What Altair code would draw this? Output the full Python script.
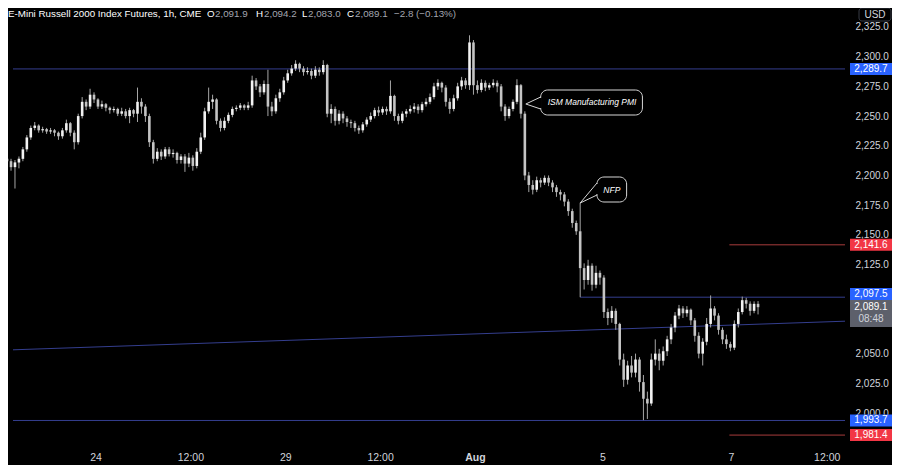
import altair as alt
import pandas as pd

# ---------------- data (1h candles) ----------------
opens = [
    2214, 2212, 2207, 2211, 2214, 2222, 2232, 2240, 2242, 2238,
    2239, 2237, 2238, 2236, 2233, 2238, 2244, 2236, 2228, 2250,
    2262, 2258, 2268, 2264, 2258, 2260, 2257, 2255, 2256, 2252,
    2254, 2250, 2255, 2252, 2262, 2258, 2250, 2228, 2214, 2220,
    2216, 2222, 2218, 2219, 2213, 2216, 2210, 2215, 2208, 2220,
    2232, 2254, 2262, 2264, 2246, 2240, 2246, 2251, 2256, 2257,
    2259, 2257, 2259, 2280, 2275, 2270, 2277, 2258, 2254, 2265,
    2270, 2280, 2286, 2290, 2294, 2290, 2287, 2288, 2284, 2289,
    2287, 2293, 2252, 2256, 2246, 2252, 2248, 2245, 2244, 2240,
    2238, 2243, 2247, 2250, 2255, 2253, 2256, 2254, 2267, 2250,
    2246, 2252, 2254, 2256, 2258, 2255, 2260, 2262, 2266, 2275,
    2278, 2274, 2262, 2256, 2265, 2275, 2280, 2276, 2312, 2276,
    2272, 2278, 2274, 2276, 2278, 2275, 2258, 2250, 2256, 2262,
    2276, 2252, 2200, 2192, 2188, 2196, 2194, 2198, 2194, 2190,
    2186, 2184, 2178, 2170, 2160, 2153, 2122, 2112, 2124, 2108,
    2118, 2114, 2085, 2080, 2086, 2075, 2045, 2028, 2040, 2034,
    2045, 2026, 2012, 2008, 2045, 2050, 2044, 2052, 2062, 2072,
    2082, 2088, 2084, 2087, 2078, 2065, 2050, 2060, 2075, 2088,
    2082, 2070, 2062, 2058, 2055, 2075, 2085, 2095, 2092, 2086,
    2091.9,
]
highs = [
    2217, 2214, 2213, 2216, 2224, 2234, 2242, 2245, 2243, 2241,
    2240, 2240, 2239, 2237, 2240, 2247, 2245, 2238, 2252, 2266,
    2264, 2273, 2270, 2265, 2263, 2261, 2258, 2258, 2257, 2257,
    2256, 2257, 2256, 2274, 2265, 2260, 2252, 2230, 2223, 2222,
    2224, 2224, 2222, 2220, 2218, 2218, 2219, 2217, 2223, 2236,
    2257, 2274, 2268, 2265, 2248, 2249, 2253, 2258, 2259, 2261,
    2260, 2262, 2284, 2282, 2277, 2280, 2289, 2262, 2268, 2273,
    2283, 2289, 2293, 2297, 2295, 2292, 2291, 2290, 2292, 2291,
    2297, 2294, 2260, 2258, 2255, 2254, 2250, 2247, 2246, 2242,
    2245, 2249, 2253, 2257, 2258, 2258, 2258, 2280, 2268, 2252,
    2254, 2256, 2259, 2261, 2260, 2262, 2265, 2269, 2278, 2281,
    2279, 2276, 2265, 2268, 2278, 2283, 2282, 2318, 2314, 2280,
    2281, 2280, 2278, 2281, 2280, 2277, 2260, 2258, 2264, 2281,
    2277, 2254, 2203, 2196, 2199, 2198, 2200, 2200, 2196, 2192,
    2188, 2186, 2180, 2172, 2162, 2177, 2126, 2129, 2126, 2124,
    2120, 2116, 2088, 2090, 2088, 2076, 2050, 2044, 2048, 2050,
    2047, 2032, 2018, 2050, 2062, 2054, 2056, 2065, 2075, 2085,
    2091, 2090, 2090, 2088, 2080, 2068, 2063, 2080, 2099, 2090,
    2084, 2072, 2066, 2060, 2078, 2088, 2098, 2097, 2094, 2094,
    2094.2,
]
lows = [
    2208, 2204, 2189, 2206, 2212, 2220, 2230, 2238, 2236, 2236,
    2235, 2235, 2233, 2230, 2231, 2236, 2233, 2222, 2226, 2248,
    2255, 2256, 2261, 2256, 2256, 2254, 2252, 2253, 2250, 2250,
    2248, 2244, 2249, 2245, 2252, 2245, 2224, 2210, 2212, 2213,
    2214, 2216, 2215, 2210, 2210, 2203, 2207, 2204, 2206, 2218,
    2230, 2252, 2256, 2243, 2237, 2238, 2244, 2249, 2254, 2255,
    2255, 2255, 2257, 2272, 2266, 2268, 2250, 2250, 2252, 2262,
    2268, 2278, 2284, 2288, 2287, 2284, 2285, 2281, 2282, 2284,
    2285, 2249, 2244, 2242, 2243, 2244, 2241, 2240, 2237, 2235,
    2236, 2241, 2245, 2248, 2250, 2251, 2251, 2252, 2246, 2243,
    2244, 2249, 2252, 2253, 2252, 2253, 2258, 2260, 2264, 2272,
    2270, 2258, 2252, 2254, 2263, 2272, 2273, 2272, 2268, 2269,
    2270, 2271, 2272, 2274, 2270, 2254, 2246, 2248, 2254, 2260,
    2248, 2196, 2186, 2184, 2186, 2190, 2192, 2191, 2186, 2182,
    2179, 2174, 2166, 2156, 2150, 2097.5, 2104, 2108, 2103, 2105,
    2108, 2080, 2074, 2076, 2070, 2040, 2022, 2024, 2030, 2030,
    2018, 1994, 1995, 2006, 2040, 2036, 2040, 2048, 2058, 2068,
    2079, 2080, 2081, 2074, 2060, 2046, 2040, 2057, 2072, 2078,
    2066, 2058, 2054, 2052, 2053, 2072, 2083, 2088, 2082, 2084,
    2083.0,
]
closes = [
    2212, 2207, 2211, 2214, 2222, 2232, 2240, 2242, 2238, 2239,
    2237, 2238, 2236, 2233, 2238, 2244, 2236, 2228, 2250, 2262,
    2258, 2268, 2264, 2258, 2260, 2257, 2255, 2256, 2252, 2254,
    2250, 2255, 2252, 2262, 2258, 2250, 2228, 2214, 2220, 2216,
    2222, 2218, 2219, 2213, 2216, 2210, 2215, 2208, 2220, 2232,
    2254, 2262, 2264, 2246, 2240, 2246, 2251, 2256, 2257, 2259,
    2257, 2259, 2280, 2275, 2270, 2277, 2258, 2254, 2265, 2270,
    2280, 2286, 2290, 2294, 2290, 2287, 2288, 2284, 2289, 2287,
    2293, 2252, 2256, 2246, 2252, 2248, 2245, 2244, 2240, 2238,
    2243, 2247, 2250, 2255, 2253, 2256, 2254, 2267, 2250, 2246,
    2252, 2254, 2256, 2258, 2255, 2260, 2262, 2266, 2275, 2278,
    2274, 2262, 2256, 2265, 2275, 2280, 2276, 2312, 2276, 2272,
    2278, 2274, 2276, 2278, 2275, 2258, 2250, 2256, 2262, 2276,
    2252, 2200, 2192, 2188, 2196, 2194, 2198, 2194, 2190, 2186,
    2184, 2178, 2170, 2160, 2153, 2122, 2112, 2124, 2108, 2118,
    2114, 2085, 2080, 2086, 2075, 2045, 2028, 2040, 2034, 2045,
    2026, 2012, 2008, 2045, 2050, 2044, 2052, 2062, 2072, 2082,
    2088, 2084, 2087, 2078, 2065, 2050, 2060, 2075, 2088, 2082,
    2070, 2062, 2058, 2055, 2075, 2085, 2095, 2092, 2086, 2091.9,
    2089.1,
]

# time axis (bar index -> label)
x_tick_pos = [22.5, 46.5, 70.5, 94.5, 118.5, 150.75, 183.25, 207.5]
x_tick_text = ["24", "12:00", "29", "12:00", "Aug", "5", "7", "12:00"]

# price axis labels that are not hidden behind the price tags
y_tick_values = [2000, 2025, 2050, 2125, 2150, 2175, 2200, 2225, 2250, 2275, 2300, 2325]

# drawn levels
level_price = [2289.7, 1993.7, 2097.5, 2141.6, 1981.4]
level_from = [1.5, 1.5, 145.0, 182.75, 182.75]
level_kind = ["blue", "blue", "blue", "red", "red"]
trend_idx = [1.5, 212.0]
trend_price = [2053.2, 2077.3]

# price tags on the right
tag_price = [2289.7, 2141.6, 2097.5, 1993.7, 1981.4]
tag_text = ["2,289.7", "2,141.6", "2,097.5", "1,993.7", "1,981.4"]
tag_kind = ["blue", "red", "blue", "blue", "red"]
last_price_text = "2,089.1"
countdown_text = "08:48"

# event call-outs
note_text = ["ISM Manufacturing PMI", "NFP"]

# ---------------- layout ----------------
W, H = 842, 438
PX_PER_PT = 1.1877
Y_TOP = 2000 + (413 - 8) / PX_PER_PT
Y_BOT = Y_TOP - H / PX_PER_PT
X_DOM = [1.5, 212.0]
FONT = "Liberation Sans"
BLUE_LINE = "#343e8e"
RED_LINE = "#a83c3c"
TAG_COL = {"blue": "#2962ff", "red": "#f23645"}


def pr(plot_y):
    """plot-pixel y -> price"""
    return Y_TOP - plot_y / PX_PER_PT


def yp(price):
    return (Y_TOP - price) * PX_PER_PT


xs = alt.Scale(domain=X_DOM, nice=False, zero=False)
ys = alt.Scale(domain=[Y_BOT, Y_TOP], nice=False, zero=False)
yaxis = alt.Axis(
    orient="right", values=y_tick_values, format=",.1f",
    labelColor="#d1d4dc", labelFontSize=10, labelFont=FONT, domain=False,
    ticks=False, grid=False, labelPadding=5, title=None, labelAlign="left",
)


def X(f):
    return alt.X(f, type="quantitative", scale=xs, axis=None)


def Y(f):
    return alt.Y(f, type="quantitative", scale=ys, axis=yaxis)


# candles
df = pd.DataFrame({"i": list(range(len(closes))), "open": opens, "high": highs,
                   "low": lows, "close": closes})
df["dir"] = ["up" if c >= o else "down" for o, c in zip(opens, closes)]

wicks = alt.Chart(df).mark_rule(color="#a6a6a6", strokeWidth=1, clip=True).encode(
    x=X("i"), y=Y("low"), y2="high")
bodies = alt.Chart(df).mark_bar(width=2.6, clip=True).encode(
    x=X("i"), y=Y("open"), y2="close",
    color=alt.Color("dir:N", scale=alt.Scale(domain=["up", "down"],
                                             range=["#f2f2f2", "#c4c4c4"]), legend=None))

# horizontal levels
lv = pd.DataFrame({"x0": level_from, "x1": [X_DOM[1]] * len(level_price),
                   "p": level_price,
                   "c": [BLUE_LINE if k == "blue" else RED_LINE for k in level_kind]})
levels = alt.Chart(lv).mark_rule(strokeWidth=1, clip=True).encode(
    x=X("x0"), x2="x1", y=Y("p"), color=alt.Color("c:N", scale=None))
tr = pd.DataFrame({"x0": [trend_idx[0]], "x1": [trend_idx[1]],
                   "p0": [trend_price[0]], "p1": [trend_price[1]]})
trend = alt.Chart(tr).mark_rule(strokeWidth=1, color=BLUE_LINE, clip=True).encode(
    x=X("x0"), x2="x1", y=Y("p0"), y2="p1")

# call-outs (positions in bar index / price)
box_df = pd.DataFrame({"x0": [135.0, 149.25], "x1": [160.75, 156.75],
                       "p0": [pr(115 - 8), pr(202 - 8)], "p1": [pr(90 - 8), pr(177 - 8)]})
boxes = alt.Chart(box_df).mark_rect(fill="#000000", stroke="#d6d6d6", strokeWidth=1,
                                    cornerRadius=7).encode(
    x=X("x0"), x2="x1", y=Y("p0"), y2="p1")
tail_df = pd.DataFrame({
    "g": ["a", "a", "a", "b", "b", "b"],
    "o": [0, 1, 2, 0, 1, 2],
    "x": [135.0, 131.25, 135.0, 149.25, 145.0, 149.25],
    "p": [pr(97 - 8), pr(104 - 8), pr(109 - 8), pr(183 - 8), pr(203 - 8), pr(195 - 8)],
})
tails = alt.Chart(tail_df).mark_line(color="#d6d6d6", strokeWidth=1).encode(
    x=X("x"), y=Y("p"), detail="g:N", order="o:Q")
er_df = pd.DataFrame({"x": [135.0, 149.25],
                      "p0": [pr(98 - 8), pr(184 - 8)], "p1": [pr(108 - 8), pr(194 - 8)]})
erasers = alt.Chart(er_df).mark_rule(color="#000000", strokeWidth=2.5).encode(
    x=X("x"), y=Y("p0"), y2="p1")
nt_df = pd.DataFrame({"t": note_text, "x": [148.0, 153.0],
                      "p": [pr(102 - 8), pr(190 - 8)]})
notes = alt.Chart(nt_df).mark_text(font=FONT, fontSize=8.5, fontStyle="italic",
                                   color="#ffffff").encode(
    x=X("x"), y=Y("p"), text="t:N")

# price tags
half = 6.0
centers = []
for p, t in zip(tag_price, tag_text):
    c = yp(p)
    if t == "2,097.5":
        c = 294 - 8
    centers.append(c)
tg = pd.DataFrame({"t": tag_text, "lo": [pr(c + half) for c in centers],
                   "hi": [pr(c - half) for c in centers], "mid": [pr(c) for c in centers],
                   "c": [TAG_COL[k] for k in tag_kind]})
tag_box = alt.Chart(tg).mark_rect().encode(
    x=alt.value(W), x2=alt.value(W + 42), y=Y("lo"), y2="hi",
    color=alt.Color("c:N", scale=None))
tag_txt = alt.Chart(tg).mark_text(font=FONT, fontSize=10, color="#ffffff").encode(
    x=alt.value(W + 21), y=Y("mid"), text="t:N")
cur = pd.DataFrame({"lo": [pr(327 - 8)], "hi": [pr(300 - 8)]})
cur_box = alt.Chart(cur).mark_rect(color="#5d606b").encode(
    x=alt.value(W), x2=alt.value(W + 42), y=Y("lo"), y2="hi")
cur_t = pd.DataFrame({"t": [last_price_text, countdown_text],
                      "p": [pr(307 - 8), pr(319 - 8)], "c": ["#ffffff", "#d1d4dc"]})
cur_txt = alt.Chart(cur_t).mark_text(font=FONT, fontSize=10).encode(
    x=alt.value(W + 21), y=Y("p"), text="t:N", color=alt.Color("c:N", scale=None))

# time labels
tl = pd.DataFrame({"x": x_tick_pos, "t": x_tick_text})
tl_norm = tl[tl["t"] != "Aug"]
tl_bold = tl[tl["t"] == "Aug"]
tlabels = alt.Chart(tl_norm).mark_text(font=FONT, fontSize=10.5, color="#d1d4dc",
                                       baseline="middle").encode(
    x=X("x"), y=alt.value(H + 12), text="t:N")
tlabels_b = alt.Chart(tl_bold).mark_text(font=FONT, fontSize=10.5, color="#d1d4dc",
                                         baseline="middle", fontWeight="bold").encode(
    x=X("x"), y=alt.value(H + 12), text="t:N")

# header texts (x in plot pixels)
one = pd.DataFrame({"a": [0]})
header_parts = [
    ("E-Mini Russell 2000 Index Futures, 1h, CME", 0, "#ffffff"),
    ("O", 199, "#ffffff"), ("2,091.9", 207, "#a3a6af"),
    ("H", 248, "#ffffff"), ("2,094.2", 256, "#a3a6af"),
    ("L", 294, "#ffffff"), ("2,083.0", 300, "#a3a6af"),
    ("C", 339, "#ffffff"), ("2,089.1", 347, "#a3a6af"),
    ("\u22122.8 (\u22120.13%)", 386, "#a3a6af"),
]
header = [
    alt.Chart(one).mark_text(text=t, font=FONT, fontSize=9.8, color=c, align="left",
                             baseline="top").encode(x=alt.value(px), y=alt.value(1))
    for t, px, c in header_parts
]
usd_box = alt.Chart(one).mark_rect(fill="#000000", stroke="#363a45", strokeWidth=1,
                                   cornerRadius=3).encode(
    x=alt.value(W + 9), x2=alt.value(W + 41), y=alt.value(0), y2=alt.value(13))
usd_txt = alt.Chart(one).mark_text(text="USD", font=FONT, fontSize=10,
                                   color="#d1d4dc").encode(
    x=alt.value(W + 25), y=alt.value(7))

chart = alt.layer(
    levels, trend, wicks, bodies, boxes, erasers, tails, notes,
    tag_box, tag_txt, cur_box, cur_txt, tlabels, tlabels_b, *header, usd_box, usd_txt,
).properties(
    width=W, height=H,
    autosize=alt.AutoSizeParams(type="none"),
    padding={"left": 0, "top": 0, "right": 42, "bottom": 19},
    background="#000000",
).configure_view(strokeWidth=0)

chart.save("out.html", embed_options={"renderer": "svg", "actions": False})
